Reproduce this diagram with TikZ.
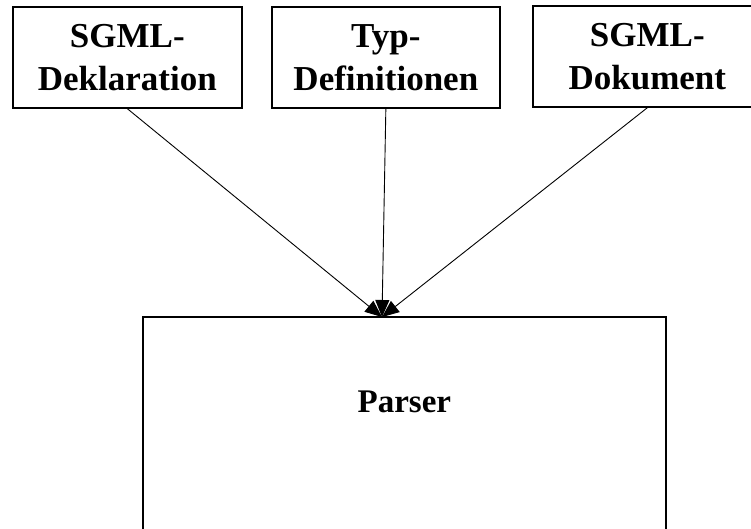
\documentclass[tikz,border=0pt]{standalone}
\usepackage{fontspec}
\setmainfont{Liberation Serif}
\usetikzlibrary{arrows.meta}
\begin{document}
\begin{tikzpicture}[x=1pt,y=-1pt,
  box/.style={draw, line width=1.7pt, minimum width=229pt, minimum height=101pt,
    inner sep=0pt, align=center, anchor=north west,
    font=\fontsize{35}{43}\selectfont\bfseries},
  edge/.style={line width=1.7pt},
  conn/.style={line width=0.9pt, -{Triangle[length=17pt,width=14pt]}}]
\useasboundingbox (0,0) rectangle (751,528);
\clip (0,0) rectangle (751,528);
\node[box] (decl) at (12,6) {SGML-\\Deklaration};
\node[box, minimum width=228pt] (typ) at (271,6) {Typ-\\Definitionen};
\node[box] (doc) at (532,5) {SGML-\\Dokument};
\node[box, draw=none, minimum width=521pt, minimum height=168pt,
  font=\fontsize{33}{40}\selectfont\bfseries] (parser) at (143,317) {Parser};
\draw[edge] (parser.south west) ++(0,60) -- (parser.north west)
  -- (parser.north east) -- ++(0,280);
\coordinate (tgt) at (382,317);
\draw[conn] (decl.south) -- (tgt);
\draw[conn] (typ.south) -- (tgt);
\draw[conn] (doc.south) -- (tgt);
\end{tikzpicture}
\end{document}
